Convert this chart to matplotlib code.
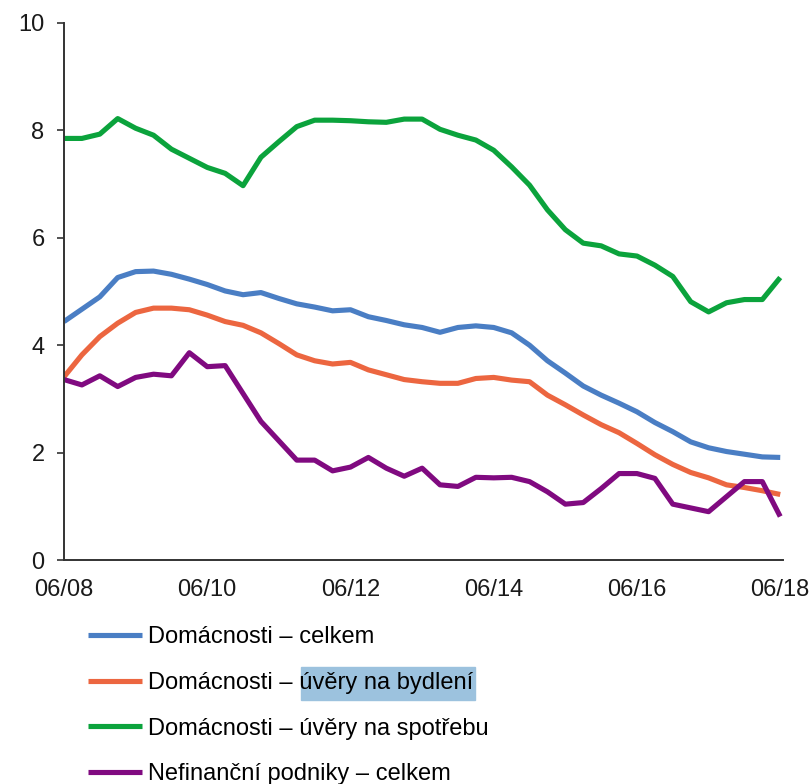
import numpy as np
import matplotlib.pyplot as plt
from matplotlib.patches import Rectangle

plt.rcParams['font.family'] = ['Liberation Sans', 'DejaVu Sans']

# quarterly observations, 06/08 .. 06/18
tick_labels = ['06/08', '06/10', '06/12', '06/14', '06/16', '06/18']

celkem = [4.44, 4.67, 4.90, 5.26, 5.37, 5.38, 5.32, 5.23, 5.13, 5.01,
          4.94, 4.98, 4.87, 4.77, 4.71, 4.64, 4.66, 4.53, 4.46, 4.38,
          4.33, 4.24, 4.33, 4.36, 4.33, 4.23, 4.00, 3.71, 3.48, 3.24,
          3.07, 2.92, 2.76, 2.56, 2.39, 2.20, 2.09, 2.02, 1.97, 1.92, 1.91]
bydleni = [3.41, 3.82, 4.16, 4.41, 4.61, 4.69, 4.69, 4.66, 4.56, 4.44,
           4.37, 4.23, 4.03, 3.82, 3.71, 3.65, 3.68, 3.54, 3.45, 3.36,
           3.32, 3.29, 3.29, 3.38, 3.40, 3.35, 3.32, 3.07, 2.89, 2.70,
           2.52, 2.37, 2.17, 1.96, 1.78, 1.63, 1.53, 1.40, 1.35, 1.29, 1.22]
spotreba = [7.85, 7.85, 7.93, 8.22, 8.04, 7.91, 7.65, 7.48, 7.31, 7.20,
            6.97, 7.50, 7.79, 8.07, 8.19, 8.19, 8.18, 8.16, 8.15, 8.21,
            8.21, 8.02, 7.91, 7.82, 7.63, 7.32, 6.98, 6.52, 6.15, 5.90,
            5.85, 5.70, 5.66, 5.49, 5.28, 4.81, 4.62, 4.79, 4.85, 4.85, 5.26]
podniky = [3.36, 3.26, 3.43, 3.23, 3.40, 3.46, 3.43, 3.86, 3.60, 3.62,
           3.10, 2.58, 2.22, 1.86, 1.86, 1.66, 1.73, 1.91, 1.71, 1.56,
           1.71, 1.40, 1.37, 1.54, 1.53, 1.54, 1.46, 1.27, 1.04, 1.07,
           1.33, 1.61, 1.61, 1.52, 1.04, 0.97, 0.90, 1.18, 1.46, 1.46, 0.81]

series = [
    ('Domácnosti – celkem', celkem, '#4a7ec4'),
    ('Domácnosti – úvěry na bydlení', bydleni, '#ec6640'),
    ('Domácnosti – úvěry na spotřebu', spotreba, '#0ba33c'),
    ('Nefinanční podniky – celkem', podniky, '#800a80'),
]

FS = 17

fig = plt.figure(figsize=(8.1, 7.84), dpi=100)
ax = fig.add_axes([0.079, 0.2857, 0.888, 0.685])

x = np.arange(len(celkem))
for label, vals, col in series:
    ax.plot(x, vals, color=col, lw=3.7, label=label, solid_capstyle='butt')

ax.set_xlim(0, 40.17)
ax.set_ylim(0, 10)
ax.set_yticks(range(0, 11, 2))
ax.set_xticks(range(0, 41, 8))
ax.set_xticklabels(tick_labels)

for s in ['top', 'right']:
    ax.spines[s].set_visible(False)
for s in ['left', 'bottom']:
    ax.spines[s].set_color('#333333')
    ax.spines[s].set_linewidth(1.4)

ax.tick_params(axis='y', length=5, width=1.2, color='#333333', pad=9,
               labelsize=FS, labelcolor='#1a1a1a')
ax.tick_params(axis='x', length=0, pad=14, labelsize=FS, labelcolor='#1a1a1a')

leg = ax.legend(loc='upper left', bbox_to_anchor=(0.1086, 0.201),
                bbox_transform=fig.transFigure, frameon=False, fontsize=FS,
                handlelength=2.3, handletextpad=0.25, labelspacing=1.0,
                borderpad=0, borderaxespad=0)
for line in leg.get_lines():
    line.set_linewidth(3.7)

# light blue selection highlight behind part of the second legend label
fig.canvas.draw()
r = fig.canvas.get_renderer()
txt = leg.get_texts()[1]
bb = txt.get_window_extent(r)
tmp = fig.text(0, 0, 'Domácnosti – ', fontsize=FS)
pre_w = tmp.get_window_extent(r).width
tmp.remove()
x0 = bb.x0 + pre_w + 2
yc = (bb.y0 + bb.y1) / 2
fig.patches.append(Rectangle((x0 / 810, (yc - 16.5) / 784),
                             (bb.x1 - x0 + 2) / 810, 33 / 784,
                             transform=fig.transFigure, color='#9cc2de',
                             zorder=-1))

fig.savefig('out.png', dpi=100)
